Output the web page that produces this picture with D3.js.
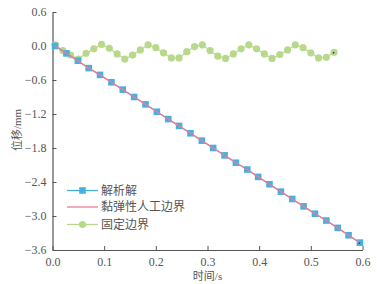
<!DOCTYPE html>
<html><head><meta charset="utf-8">
<script src="https://cdn.jsdelivr.net/npm/d3@7"></script>
<style>body{margin:0;background:#fff}svg{display:block}</style>
</head><body>
<svg id="c" width="377" height="284"></svg>
<script>
const seriesNames = ["解析解", "黏弹性人工边界", "固定边界"];
const xTicks = [0.0, 0.1, 0.2, 0.3, 0.4, 0.5, 0.6];
const yTicks = [0.6, 0.0, -0.6, -1.2, -1.8, -2.4, -3.0, -3.6];
const tAnalytic = [0.005,0.027,0.049,0.070,0.092,0.114,0.136,0.158,0.180,0.202,0.224,0.245,0.267,0.289,0.311,0.333,0.355,0.377,0.398,0.420,0.442,0.464,0.486,0.508,0.530,0.552,0.573,0.595];
const analytic = [0,-0.13,-0.26,-0.39,-0.51,-0.64,-0.77,-0.90,-1.03,-1.16,-1.29,-1.41,-1.54,-1.67,-1.80,-1.93,-2.06,-2.18,-2.31,-2.44,-2.57,-2.70,-2.83,-2.96,-3.08,-3.21,-3.34,-3.47];
const viscoelastic = [0,-0.13,-0.26,-0.39,-0.51,-0.64,-0.77,-0.90,-1.03,-1.16,-1.29,-1.41,-1.54,-1.67,-1.80,-1.93,-2.06,-2.18,-2.31,-2.44,-2.57,-2.70,-2.83,-2.96,-3.08,-3.21,-3.34,-3.47];
const tFixed = [0.005,0.020,0.035,0.050,0.065,0.080,0.095,0.110,0.125,0.140,0.155,0.170,0.185,0.200,0.215,0.230,0.245,0.260,0.275,0.290,0.305,0.320,0.335,0.350,0.365,0.380,0.395,0.410,0.425,0.440,0.455,0.470,0.485,0.500,0.515,0.530,0.545];
const fixed = [0.02,-0.08,-0.16,-0.23,-0.13,-0.05,0.03,-0.04,-0.14,-0.23,-0.16,-0.07,0.02,-0.03,-0.12,-0.21,-0.21,-0.10,-0.01,0.02,-0.08,-0.18,-0.22,-0.14,-0.05,0.02,-0.05,-0.14,-0.22,-0.15,-0.07,0.02,-0.03,-0.12,-0.21,-0.20,-0.11];

const colors = {blue:"#45b1e3", pink:"#ec7c94", green:"#b8d98c", axis:"#555", text:"#555"};
const numFont = "'Liberation Serif','Times New Roman',serif";
const cjkFont = "'Liberation Serif','Noto Sans CJK SC',serif";

const svg = d3.select("#c");
const x = d3.scaleLinear().domain([0, 0.6]).range([52.5, 362.5]);
const y = d3.scaleLinear().domain([-3.6, 0.6]).range([250, 12]);

const gx = svg.append("g").attr("transform", `translate(0,${y(-3.6)})`)
  .call(d3.axisBottom(x).tickValues(xTicks).tickFormat(d3.format(".1f")).tickSizeInner(-4).tickSizeOuter(0).tickPadding(7));
const gy = svg.append("g").attr("transform", `translate(${x(0)},0)`)
  .call(d3.axisLeft(y).tickValues(yTicks).tickFormat(d => d < 0 ? "\u2212" + d3.format(".1f")(-d) : d3.format(".1f")(d)).tickSizeInner(-4).tickSizeOuter(0).tickPadding(6));
[gx, gy].forEach(g => {
  g.select(".domain").attr("stroke", colors.axis).attr("stroke-width", 1.2);
  g.selectAll(".tick line").attr("stroke", colors.axis);
  g.selectAll(".tick text").attr("fill", colors.text).style("font-family", numFont).style("font-size", "12px");
});

svg.append("text").attr("x", 207.5).attr("y", 280).attr("text-anchor", "middle")
  .attr("fill", colors.text).style("font-family", cjkFont).style("font-size", "11px").text("时间/s");
svg.append("text").attr("transform", "translate(21,130) rotate(-90)").attr("text-anchor", "middle")
  .attr("fill", colors.text).style("font-family", cjkFont).style("font-size", "11px").text("位移/mm");

const aData = tAnalytic.map((t, i) => [t, analytic[i]]);
const vData = tAnalytic.map((t, i) => [t, viscoelastic[i]]);
const fData = tFixed.map((t, i) => [t, fixed[i]]);
const line = d3.line().x(d => x(d[0])).y(d => y(d[1]));

svg.append("path").datum(fData).attr("d", line).attr("fill", "none").attr("stroke", colors.green).attr("stroke-width", 1.2);
svg.selectAll(".fp").data(fData).enter().append("circle").attr("cx", d => x(d[0])).attr("cy", d => y(d[1])).attr("r", 3.6).attr("fill", colors.green);

svg.append("path").datum(aData).attr("d", line).attr("fill", "none").attr("stroke", colors.blue).attr("stroke-width", 1.2);
svg.selectAll(".ap").data(aData).enter().append("rect").attr("x", d => x(d[0]) - 3.3).attr("y", d => y(d[1]) - 3.3).attr("width", 6.6).attr("height", 6.6).attr("fill", colors.blue);

svg.append("path").datum(vData).attr("d", line).attr("fill", "none").attr("stroke", colors.pink).attr("stroke-width", 1.3);

[aData[aData.length - 1], fData[fData.length - 1]].forEach(d => {
  svg.append("circle").attr("cx", x(d[0]) - 0.5).attr("cy", y(d[1]) + 0.5).attr("r", 0.9).attr("fill", "#444");
});

const legRows = [
  {name: seriesNames[0], color: colors.blue, marker: "square", yy: 190.5},
  {name: seriesNames[1], color: colors.pink, marker: "none", yy: 207},
  {name: seriesNames[2], color: colors.green, marker: "circle", yy: 224.5}
];
const lg = svg.append("g");
legRows.forEach(r => {
  lg.append("line").attr("x1", 67).attr("x2", 98).attr("y1", r.yy).attr("y2", r.yy).attr("stroke", r.color).attr("stroke-width", 1.3);
  if (r.marker === "square") lg.append("rect").attr("x", 82.5 - 3.3).attr("y", r.yy - 3.3).attr("width", 6.6).attr("height", 6.6).attr("fill", r.color);
  if (r.marker === "circle") lg.append("circle").attr("cx", 82.5).attr("cy", r.yy).attr("r", 3.6).attr("fill", r.color);
  lg.append("text").attr("x", 101).attr("y", r.yy + 4).attr("fill", colors.text)
    .style("font-family", cjkFont).style("font-size", "12px").text(r.name);
});
</script>
</body></html>
